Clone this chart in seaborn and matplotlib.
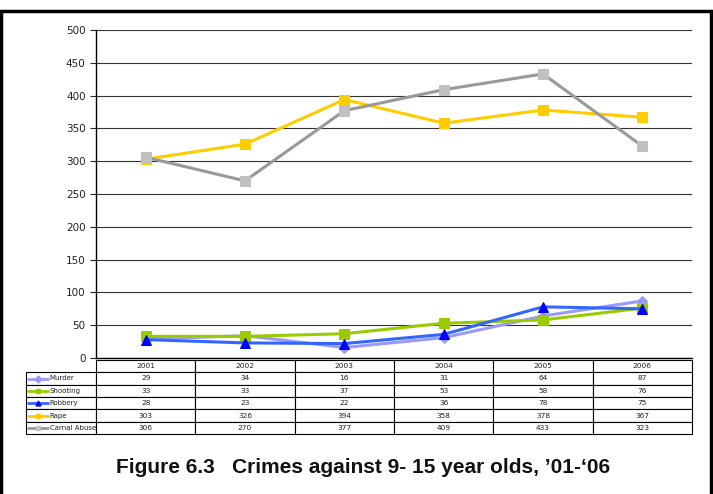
import matplotlib
matplotlib.use("Agg")
import matplotlib.pyplot as plt
from matplotlib.patches import Rectangle
import seaborn as sns
import numpy as np
import pandas as pd

years = ["2001", "2002", "2003", "2004", "2005", "2006"]
crimes = ["Murder", "Shooting", "Robbery", "Rape", "Carnal Abuse"]
murder = [29, 34, 16, 31, 64, 87]
shooting = [33, 33, 37, 53, 58, 76]
robbery = [28, 23, 22, 36, 78, 75]
rape = [303, 326, 394, 358, 378, 367]
carnal_abuse = [306, 270, 377, 409, 433, 323]
values = [murder, shooting, robbery, rape, carnal_abuse]

# line colour, marker, marker colour, marker size
styles = {
    "Murder": ("#9999FF", "D", "#9999FF", 5.5),
    "Shooting": ("#99CC00", "s", "#99CC00", 6.5),
    "Robbery": ("#3366FF", "^", "#0000FF", 6.5),
    "Rape": ("#FFCC00", "s", "#FFCC00", 6.5),
    "Carnal Abuse": ("#999999", "s", "#C0C0C0", 6.5),
}

df = pd.DataFrame({
    "pos": np.tile(np.arange(len(years)), len(crimes)),
    "value": np.concatenate(values),
    "crime": np.repeat(crimes, len(years)),
})

sns.set_style("white")
fig = plt.figure(figsize=(7.13, 4.94), dpi=100)
ax = fig.add_axes([96 / 713, 1 - 358 / 494, 596 / 713, 328 / 494])

for name in crimes:
    lc, mk, mc, ms = styles[name]
    sub = df[df["crime"] == name]
    sns.lineplot(data=sub, x="pos", y="value", ax=ax, color=lc, linewidth=2.2,
                 marker=mk, markersize=ms, markerfacecolor=mc,
                 markeredgecolor=mc, zorder=3)

ax.set_xlim(-0.5, len(years) - 0.5)
ax.set_ylim(0, 500)
ax.set_yticks(np.arange(0, 501, 50))
ax.set_xticks([])
ax.set_xlabel("")
ax.set_ylabel("")
ax.tick_params(axis="y", labelsize=7.5, labelcolor="#222222", length=4,
               width=0.8, direction="out", left=True)
ax.yaxis.grid(True, color="#333333", linewidth=0.8)
for s in ["top", "right"]:
    ax.spines[s].set_visible(False)
for s in ["left", "bottom"]:
    ax.spines[s].set_color("black")
    ax.spines[s].set_linewidth(1.0)

# data table under the chart (first column holds the series names)
label_w = 70 / 596
rows = [[""] + years] + [[name] + [str(v) for v in vals]
                         for name, vals in zip(crimes, values)]
tbl_bottom = -(434 - 358) / 328
tbl_h = 74 / 328
tbl = ax.table(cellText=rows, cellLoc="center",
               colWidths=[label_w] + [1 / 6] * 6,
               bbox=[-label_w, tbl_bottom, 1 + label_w, tbl_h])
tbl.auto_set_font_size(False)
tbl.set_fontsize(5.3)
for (r, c), cell in tbl.get_celld().items():
    cell.set_linewidth(0.8)
    cell.set_edgecolor("black")
    cell.get_text().set_color("#222222")
    if c == 0:
        cell.get_text().set_ha("left")
        cell.get_text().set_fontsize(5.0)
        cell.get_text().set_zorder(5)
        cell._loc = "left"
        cell.PAD = 0.34
    if r == 0 and c == 0:
        cell.visible_edges = ""

# legend keys in the name column
row_h = tbl_h / 6
for i, name in enumerate(crimes):
    lc, mk, mc, ms = styles[name]
    yc = tbl_bottom + (len(crimes) - i - 0.5) * row_h
    ax.plot([-0.114, -0.080], [yc, yc], transform=ax.transAxes, color=lc,
            linewidth=2.0, clip_on=False)
    ax.plot([-0.097], [yc], transform=ax.transAxes, color=mc, marker=mk,
            markersize=3.5, clip_on=False, linestyle="none")

# frame around the figure
fig.patches.append(Rectangle((0.0015, -0.1), 0.9955, 1.1 - 11 / 494,
                             transform=fig.transFigure, fill=False,
                             edgecolor="black", linewidth=2.5))

fig.text(0.509, 1 - 467 / 494, "Figure 6.3   Crimes against 9- 15 year olds, \u201901-\u201806",
         ha="center", va="center", fontsize=15, fontweight="bold",
         color="#111111",
         family=["Liberation Sans Narrow", "Liberation Sans", "DejaVu Sans"])

fig.savefig("out.png", dpi=100)
